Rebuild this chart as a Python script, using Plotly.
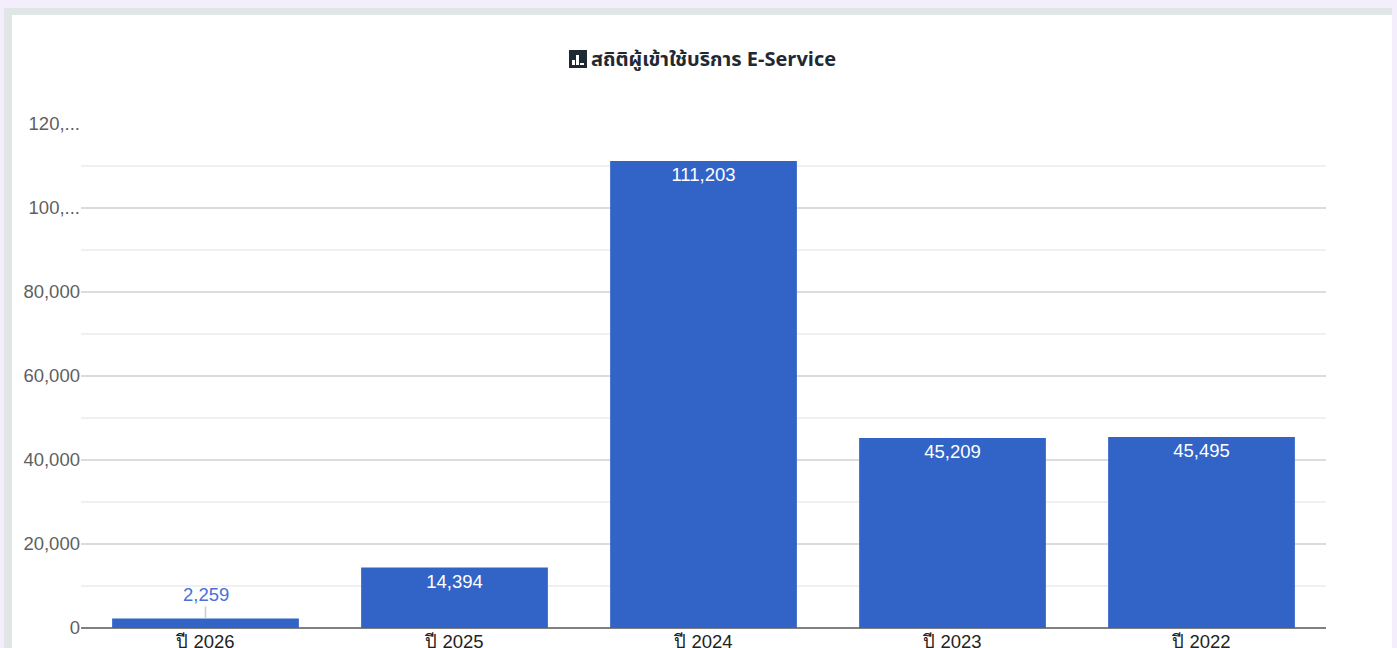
import plotly.graph_objects as go

categories = ["ปี 2026", "ปี 2025", "ปี 2024", "ปี 2023", "ปี 2022"]
values = [2259, 14394, 111203, 45209, 45495]
y_ticks = [0, 20000, 40000, 60000, 80000, 100000, 120000]
y_labels = ["0", "20,000", "40,000", "60,000", "80,000", "100,...", "120,..."]
y_minor = [10000, 30000, 50000, 70000, 90000, 110000]
title = "สถิติผู้เข้าใช้บริการ E-Service"

W, H = 1397, 648
L, R, T, B = 81, 1326, 124, 628
def px(x): return (x - L) / (R - L)
def py(y): return (B - y) / (B - T)

FONT = "Arial, Liberation Sans, sans-serif"
SIZE = 18.5
text_labels = [""] + [f"{v:,}" for v in values[1:]]

fig = go.Figure(go.Bar(
    x=categories, y=values, marker=dict(color="#3264c8", line_width=0),
    text=text_labels, textposition="inside", insidetextanchor="end",
    textangle=0, cliponaxis=False,
    textfont=dict(color="white", size=SIZE, family=FONT), hoverinfo="skip",
))

shapes = [
    dict(type="rect", xref="paper", yref="paper", layer="below", line_width=0, fillcolor="#e0e6e6",
         x0=px(4), x1=px(1392), y0=py(H + 5), y1=py(8)),
    dict(type="rect", xref="paper", yref="paper", layer="below", line_width=0, fillcolor="#ffffff",
         x0=px(12), x1=px(1392), y0=py(H + 5), y1=py(15)),
    # title icon
    dict(type="rect", xref="paper", yref="paper", line_width=0, fillcolor="#1f2933",
         x0=px(569), x1=px(587), y0=py(68), y1=py(50)),
]
for x0, x1, top in [(572, 575, 60), (576, 579, 55), (580, 584, 63)]:
    shapes.append(dict(type="rect", xref="paper", yref="paper", line_width=0, fillcolor="#ffffff",
                       x0=px(x0), x1=px(x1), y0=py(65), y1=py(top)))

fig.update_layout(
    width=W, height=H, margin=dict(l=L, r=W - R, t=T, b=H - B, pad=0, autoexpand=False),
    autosize=False, paper_bgcolor="#f4edfc", plot_bgcolor="rgba(0,0,0,0)",
    bargap=0.25, showlegend=False, shapes=shapes,
    font=dict(family=FONT, size=SIZE),
    annotations=[
        dict(x=categories[0], y=values[0], xref="x", yref="y", text=f"{values[0]:,}", showarrow=True,
             arrowhead=0, arrowwidth=1.5, arrowcolor="#cccccc", ax=0, ay=-24, standoff=0,
             font=dict(color="#4a6fd8", size=SIZE, family=FONT)),
        dict(x=px(589), y=py(60), xref="paper", yref="paper", xanchor="left", yanchor="middle",
             text=f"<b>{title}</b>", showarrow=False,
             font=dict(color="#1f2933", size=20, family="Noto Sans Thai, Noto Sans, sans-serif")),
    ],
)
fig.update_xaxes(
    showgrid=False, showline=False, ticks="", zeroline=False, fixedrange=True, automargin=False,
    tickfont=dict(color="#222222", size=SIZE, family=FONT), ticklen=0,
)
fig.update_yaxes(
    range=[0, 120000], tickvals=y_ticks, ticktext=y_labels, fixedrange=True, automargin=False,
    gridcolor="#dcdcdc", gridwidth=1.5, zeroline=True, zerolinecolor="#808080", zerolinewidth=2,
    tickfont=dict(color="#5f5f5f", size=SIZE, family=FONT), ticks="", showline=False,
    minor=dict(tickvals=y_minor, showgrid=True, gridcolor="#f0f0f0", gridwidth=1.5, ticks=""),
)
fig.write_html("out.html", config={"displayModeBar": False},
               post_script="document.body.style.margin='0';document.body.style.overflow='hidden';")
